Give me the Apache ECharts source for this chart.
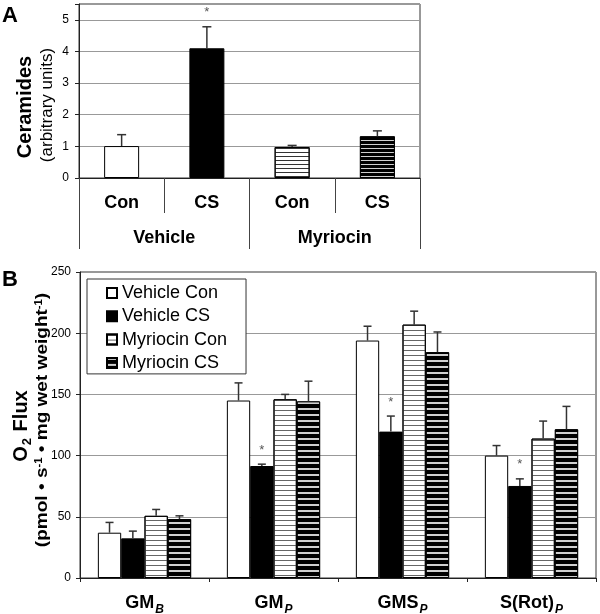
<!DOCTYPE html>
<html><head><meta charset="utf-8">
<script src="https://cdn.jsdelivr.net/npm/echarts@6/dist/echarts.min.js"></script>
<style>html,body{margin:0;padding:0;background:#fff}#c{width:600px;height:614px}</style>
</head><body><div id="c"></div>
<script>
// ---------- Panel A data ----------
const catsA = ['Con', 'CS', 'Con', 'CS'];
const groupsA = ['Vehicle', 'Myriocin'];
const valsA = [1.01, 4.10, 0.98, 1.32];
const errA = [0.36, 0.68, 0.05, 0.17];
const sigA = [0, 1, 0, 0];

// ---------- Panel B data ----------
const catsB = ['GM_B', 'GM_P', 'GMS_P', 'S(Rot)_P'];
const namesB = ['Vehicle Con', 'Vehicle CS', 'Myriocin Con', 'Myriocin CS'];
const vehConB = [37, 145, 194, 100];
const vehConErrB = [8.4, 14.4, 11.7, 8.2];
const vehCsB = [32.4, 91.5, 119.6, 75.2];
const vehCsErrB = [5.9, 1.5, 12.7, 5.8];
const myrConB = [50.8, 146, 207, 113.9];
const myrConErrB = [5.2, 4, 11, 14.3];
const myrCsB = [48.1, 144.3, 184.5, 121.5];
const myrCsErrB = [2.7, 16.5, 16.5, 18.7];
const vehCsSigB = [0, 1, 1, 1];

const FONT = '"Liberation Sans", Arial, Helvetica, sans-serif';

const stWhite = {color: '#fff', borderColor: '#000', borderWidth: 1};
const stBlack = {color: '#000', borderColor: '#000', borderWidth: 1};
function stStripeW(gap, col) {
  return {color: '#fff', borderColor: '#000', borderWidth: 1,
    decal: {symbol: 'rect', symbolSize: 1, dashArrayX: [1, 0], dashArrayY: [1, gap], color: col}};
}
function stStripeB(line, gap) {
  return {color: '#000', borderColor: '#000', borderWidth: 1,
    decal: {symbol: 'rect', symbolSize: 1, dashArrayX: [1, 0], dashArrayY: [line, gap], color: '#d0d0d0'}};
}
const stylesA = [stWhite, stBlack, stStripeW(2.9, '#333'), stStripeB(1, 2.6)];
const stylesB = [stWhite, stBlack, stStripeW(3.4, '#666'), stStripeB(1.2, 3.2)];

function errRenderer(vals, errs, sigs, nSeries, idx, gapRatio, capHalf) {
  return function (params, api) {
    const i = api.value(0);
    const v = vals[i], e = errs[i];
    const band = api.size([1, 0])[0];
    let off = 0;
    if (nSeries > 1) {
      const bw = band * (1 - gapRatio) / nSeries;
      off = (idx - (nSeries - 1) / 2) * bw;
    }
    const p0 = api.coord([i, v]);
    const p1 = api.coord([i, v + e]);
    const x = p0[0] + off;
    const ch = [
      {type: 'line', shape: {x1: x, y1: p0[1], x2: x, y2: p1[1]}, style: {stroke: '#333', lineWidth: 1.5}},
      {type: 'line', shape: {x1: x - capHalf, y1: p1[1], x2: x + capHalf, y2: p1[1]}, style: {stroke: '#333', lineWidth: 1.5}}
    ];
    if (sigs && sigs[i]) {
      ch.push({type: 'text', x: x, y: p1[1] - 14,
        style: {text: '*', fill: '#555', font: '13px ' + FONT, align: 'center', verticalAlign: 'middle',
          textAlign: 'center', textVerticalAlign: 'middle'}});
    }
    return {type: 'group', children: ch};
  };
}

const seriesB = [];
const bData = [vehConB, vehCsB, myrConB, myrCsB];
const bErr = [vehConErrB, vehCsErrB, myrConErrB, myrCsErrB];
const GAPB = 0.277;
for (let s = 0; s < 4; s++) {
  seriesB.push({type: 'bar', name: namesB[s], xAxisIndex: 2, yAxisIndex: 1,
    data: bData[s], itemStyle: stylesB[s], barGap: '0%', barCategoryGap: (GAPB * 100) + '%',
    emphasis: {disabled: true}});
}
for (let s = 0; s < 4; s++) {
  seriesB.push({type: 'custom', xAxisIndex: 2, yAxisIndex: 1, z: 5,
    data: catsB.map((c, i) => [i, bData[s][i]]),
    renderItem: errRenderer(bData[s], bErr[s], s === 1 ? vehCsSigB : null, 4, s, GAPB, 4)});
}

const option = {
  animation: false,
  textStyle: {fontFamily: FONT},
  grid: [
    {left: 79, top: 4, width: 341, height: 174, show: true, borderColor: '#333', borderWidth: 1, outerBoundsMode: 'none', containLabel: false},
    {left: 80, top: 272, width: 516, height: 306, show: true, borderColor: '#333', borderWidth: 1, outerBoundsMode: 'none', containLabel: false}
  ],
  legend: {
    left: 87, top: 279, orient: 'vertical', data: namesB, icon: 'rect',
    itemWidth: 10, itemHeight: 10, itemGap: 3.3, itemTextGap: 5,
    padding: [4, 19, 1, 19], borderColor: '#333', borderWidth: 1, backgroundColor: '#fff',
    textStyle: {fontSize: 18, lineHeight: 20, color: '#000', fontFamily: FONT},
    selectedMode: false
  },
  xAxis: [
    {type: 'category', gridIndex: 0, data: catsA, position: 'bottom',
      axisLine: {show: true, lineStyle: {color: '#222', width: 1}},
      axisTick: {show: true, length: 35, interval: 0, lineStyle: {color: '#444'}},
      axisLabel: {margin: 16, fontSize: 18, fontWeight: 'bold', color: '#000', interval: 0},
      splitLine: {show: false}},
    {type: 'category', gridIndex: 0, data: groupsA, position: 'bottom',
      axisLine: {show: false},
      axisTick: {show: true, length: 71, interval: 0, lineStyle: {color: '#444'}},
      axisLabel: {margin: 51, fontSize: 18, fontWeight: 'bold', color: '#000', interval: 0},
      splitLine: {show: false}},
    {type: 'category', gridIndex: 1, data: catsB, position: 'bottom',
      axisLine: {show: true, lineStyle: {color: '#222', width: 1}},
      axisTick: {show: true, length: 4, interval: 0, lineStyle: {color: '#222'}},
      axisLabel: {margin: 14, interval: 0, color: '#000',
        formatter: function (v) { const p = v.split('_'); return '{m|' + p[0] + '}{s|' + p[1] + '}'; },
        rich: {
          m: {fontSize: 18, fontWeight: 'bold', lineHeight: 22, color: '#000', fontFamily: FONT},
          s: {fontSize: 12, fontWeight: 'bold', fontStyle: 'italic', lineHeight: 12, padding: [12, 0, 0, 1], verticalAlign: 'top', color: '#000', fontFamily: FONT}
        }},
      splitLine: {show: false}}
  ],
  yAxis: [
    {type: 'value', gridIndex: 0, min: 0, max: 5.5, interval: 1,
      axisLine: {show: true, lineStyle: {color: '#222'}},
      axisTick: {show: true, length: 4, lineStyle: {color: '#222'}},
      axisLabel: {fontSize: 12, color: '#000', margin: 10,
        formatter: function (v) { return Number.isInteger(v) ? String(v) : ''; }},
      splitLine: {show: true, lineStyle: {color: '#999', width: 1}}},
    {type: 'value', gridIndex: 1, min: 0, max: 250, interval: 50,
      axisLine: {show: true, lineStyle: {color: '#222'}},
      axisTick: {show: true, length: 4, lineStyle: {color: '#222'}},
      axisLabel: {fontSize: 12, color: '#000', margin: 9},
      splitLine: {show: true, lineStyle: {color: '#999', width: 1}}}
  ],
  graphic: [
    {type: 'text', x: 2, y: 16, style: {text: 'A', font: 'bold 22px ' + FONT, fill: '#000', textVerticalAlign: 'middle', verticalAlign: 'middle'}},
    {type: 'text', x: 2, y: 280, style: {text: 'B', font: 'bold 22px ' + FONT, fill: '#000', textVerticalAlign: 'middle', verticalAlign: 'middle'}},
    {type: 'text', x: 25, y: 107, rotation: Math.PI / 2,
      style: {text: 'Ceramides', font: 'bold 20px ' + FONT, fill: '#000', align: 'center', verticalAlign: 'middle', textAlign: 'center', textVerticalAlign: 'middle'}},
    {type: 'text', x: 47, y: 105, rotation: Math.PI / 2,
      style: {text: '(arbitrary units)', font: '17px ' + FONT, fill: '#000', align: 'center', verticalAlign: 'middle', textAlign: 'center', textVerticalAlign: 'middle'}},
    {type: 'text', x: 21, y: 426, rotation: Math.PI / 2,
      style: {text: '{b|O}{s|2}{b| Flux}', align: 'center', verticalAlign: 'middle', textAlign: 'center', textVerticalAlign: 'middle',
        rich: {b: {font: 'bold 20px ' + FONT, fill: '#000', lineHeight: 24},
               s: {font: 'bold 13px ' + FONT, fill: '#000', lineHeight: 13, padding: [12, 1, 0, 1], verticalAlign: 'top'}}}},
    {type: 'text', x: 42, y: 420, rotation: Math.PI / 2, scaleX: 1.12,
      style: {text: '{b|(pmol \u2022 s}{p|-1}{b| \u2022 mg wet weight}{p|-1}{b|)}', align: 'center', verticalAlign: 'middle', textAlign: 'center', textVerticalAlign: 'middle',
        rich: {b: {font: 'bold 17px ' + FONT, fill: '#000', lineHeight: 20},
               p: {font: 'bold 10px ' + FONT, fill: '#000', lineHeight: 10, padding: [0, 0, 8, 0], verticalAlign: 'bottom'}}}}
  ],
  series: [
    {type: 'bar', xAxisIndex: 0, yAxisIndex: 0, barWidth: 35,
      data: valsA.map((v, i) => ({value: v, itemStyle: stylesA[i]})),
      emphasis: {disabled: true}},
    {type: 'custom', xAxisIndex: 0, yAxisIndex: 0, z: 5,
      data: catsA.map((c, i) => [i, valsA[i]]),
      renderItem: errRenderer(valsA, errA, sigA, 1, 0, 0, 4.5)}
  ].concat(seriesB)
};

const chart = echarts.init(document.getElementById('c'), null, {renderer: 'canvas'});
chart.setOption(option);
</script>
</body></html>
